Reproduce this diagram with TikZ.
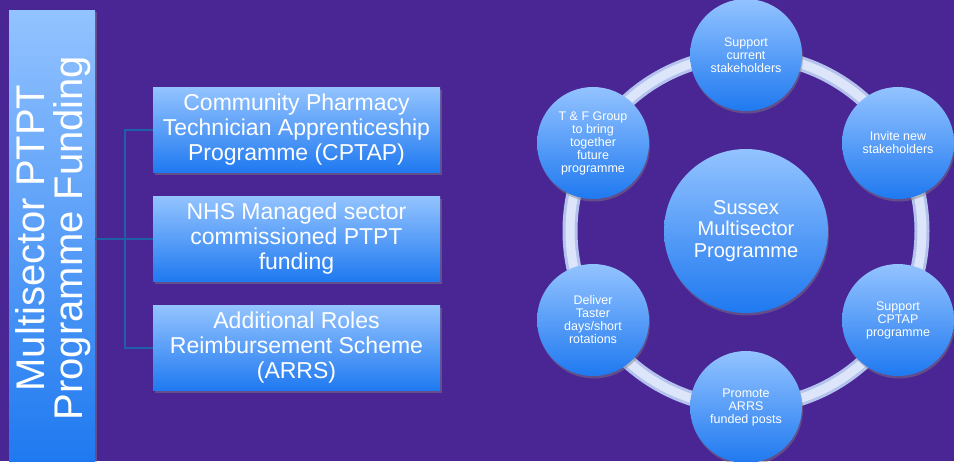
\documentclass[tikz,border=0pt]{standalone}
\usepackage{fontspec}
\setmainfont{Liberation Sans}
\usetikzlibrary{shadows}
\definecolor{bgpurple}{HTML}{4A2594}
\definecolor{btop}{HTML}{93C3FF}
\definecolor{bbot}{HTML}{1F79F0}
\definecolor{linkblue}{HTML}{1E5FA8}
\definecolor{ringout}{HTML}{B4C3EE}
\definecolor{ringin}{HTML}{DCE5FA}
\tikzset{
  bluebox/.style={rectangle, draw=none, top color=btop, bottom color=bbot,
    drop shadow={opacity=0.45, shadow xshift=1.5pt, shadow yshift=-2pt},
    text=white, align=center, inner sep=0pt},
  fundbox/.style={bluebox, minimum width=287pt, minimum height=85pt,
    font=\fontsize{23}{25}\selectfont},
  bubble/.style={circle, top color=btop, bottom color=bbot,
    drop shadow={opacity=0.45, shadow xshift=1pt, shadow yshift=-2.5pt},
    text=white, align=center, inner sep=0pt, minimum size=112pt,
    font=\fontsize{12.5}{13}\selectfont},
  link/.style={draw=linkblue, line width=1.3pt}
}
\begin{document}
\begin{tikzpicture}[x=1pt,y=-1pt]
\fill[bgpurple] (0,0) rectangle (954,461);
\useasboundingbox (0,0) rectangle (954,461);
\clip (0,0) rectangle (954,461);

% left title bar
\node[bluebox, minimum width=86pt, minimum height=451pt, anchor=north west] (bar) at (9,10) {};
\node[rotate=90, text=white, align=center, font=\fontsize{40}{38}\selectfont] (bartext) at (53,238)
  {Multisector PTPT\\Programme Funding};

% funding boxes
\node[fundbox] (cptap) at (296.5,130) {Community Pharmacy\\Technician Apprenticeship\\Programme (CPTAP)};
\node[fundbox] (nhs) at (296.5,239) {NHS Managed sector\\commissioned PTPT\\funding};
\node[fundbox] (arrs) at (296.5,348) {Additional Roles\\Reimbursement Scheme\\(ARRS)};

% connectors
\coordinate (jn) at (125,239);
\draw[link] (bar.east |- jn) -- (nhs.west);
\draw[link] (cptap.west) -| (jn) |- (arrs.west);

% ring
\coordinate (rc) at (746,231);
\draw[ringout, line width=15pt] (rc) circle[radius=176pt];
\draw[ringin, line width=9pt] (rc) circle[radius=176pt];

% centre
\node[bubble, minimum size=164pt, font=\fontsize{20}{21.5}\selectfont] (centre) at (rc)
  {Sussex\\Multisector\\Programme};

% outer bubbles
\node[bubble] (b1) at (746,55) {Support\\current\\stakeholders};
\node[bubble] (b2) at (898,143) {Invite new\\stakeholders};
\node[bubble] (b3) at (898,320) {Support\\CPTAP\\programme};
\node[bubble] (b4) at (746,407) {Promote\\ARRS\\funded posts};
\node[bubble] (b5) at (593,320) {Deliver\\Taster\\days/short\\rotations};
\node[bubble] (b6) at (593,143) {T \& F Group\\to bring\\together\\future\\programme};
\end{tikzpicture}
\end{document}
